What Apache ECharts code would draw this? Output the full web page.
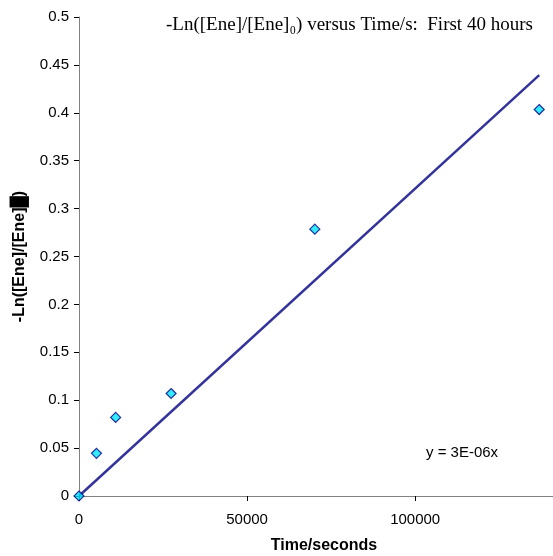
<!DOCTYPE html>
<html><head><meta charset="utf-8">
<script src="https://cdn.jsdelivr.net/npm/echarts@6/dist/echarts.min.js"></script>
<style>html,body{margin:0;padding:0;background:#fff}#c{width:553px;height:556px}</style>
</head><body><div id="c"></div>
<script>
const timeSeconds = [0, 5200, 10900, 27400, 70150, 136900];
const negLnRatio = [0, 0.0445, 0.082, 0.107, 0.2785, 0.4034];
const yTicks = [0, 0.05, 0.1, 0.15, 0.2, 0.25, 0.3, 0.35, 0.4, 0.45, 0.5];
const titleText = '-Ln([Ene]/[Ene]\u2080) versus Time/s:  First 40 hours';
const equationText = 'y = 3E-06x';

// least-squares trendline through origin
let sxy = 0, sxx = 0;
timeSeconds.forEach((x, i) => { sxy += x * negLnRatio[i]; sxx += x * x; });
const slope = sxy / sxx;
const xEnd = Math.max(...timeSeconds);
const trend = [[0, 0], [xEnd, slope * xEnd]];

const chart = echarts.init(document.getElementById('c'));
chart.setOption({
  animation: false,
  backgroundColor: '#fff',
  grid: { left: 79, right: 0, top: 17, bottom: 60, containLabel: false, outerBoundsMode: 'none' },
  title: {
    text: titleText, left: 161, top: 11,
    textStyle: { fontFamily: 'Liberation Serif', fontSize: 19, fontWeight: 'normal', color: '#000' }
  },
  xAxis: {
    type: 'value', min: 0, max: 141000, interval: 50000,
    name: 'Time/seconds', nameLocation: 'middle', nameGap: 42,
    nameTextStyle: { fontFamily: 'Liberation Sans', fontSize: 16, fontWeight: 'bold', color: '#000', padding: [0, 0, 0, 16] },
    axisLine: { show: true, lineStyle: { color: '#808080', width: 1 } },
    axisTick: { show: true, inside: false, length: 5, lineStyle: { color: '#000' } },
    axisLabel: { fontFamily: 'Liberation Sans', fontSize: 15, color: '#000', margin: 16, showMaxLabel: false,
      formatter: v => String(Math.round(v)) },
    splitLine: { show: false }
  },
  yAxis: {
    type: 'value', min: 0, max: 0.5, interval: 0.05,
    name: '-Ln([Ene]/[Ene]\u2588)', nameLocation: 'middle', nameGap: 51, nameRotate: 90,
    nameTextStyle: { fontFamily: 'Liberation Sans', fontSize: 16, fontWeight: 'bold', color: '#000' },
    axisLine: { show: true, lineStyle: { color: '#808080', width: 1 } },
    axisTick: { show: true, inside: false, length: 5, lineStyle: { color: '#000' } },
    axisLabel: { fontFamily: 'Liberation Sans', fontSize: 15, color: '#000', margin: 10,
      formatter: v => { const t = yTicks.find(k => Math.abs(k - v) < 1e-9); return String(t !== undefined ? t : v); } },
    splitLine: { show: false }
  },
  series: [
    {
      type: 'line', data: trend, symbol: 'none', silent: true,
      lineStyle: { color: '#333399', width: 2.5 }, z: 2
    },
    {
      type: 'scatter', data: timeSeconds.map((x, i) => [x, negLnRatio[i]]),
      symbol: 'diamond', symbolSize: [10, 10],
      itemStyle: { color: '#00e5ff', borderColor: '#000080', borderWidth: 1.2 }, z: 3
    }
  ],
  graphic: [{
    type: 'text', left: 426, top: 445,
    style: { text: equationText, font: '15px "Liberation Sans"', fill: '#000' }
  }]
});
</script></body></html>
